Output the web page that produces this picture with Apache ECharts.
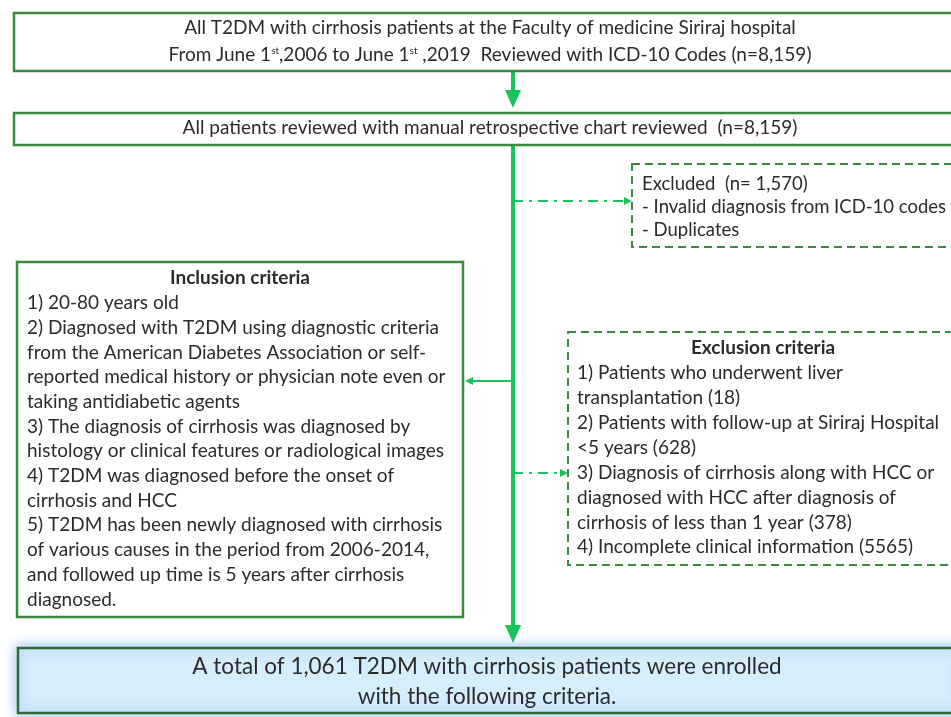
<!DOCTYPE html>
<html>
<head>
<meta charset="utf-8">
<script src="https://cdn.jsdelivr.net/npm/echarts@6/dist/echarts.min.js"></script>
<style>
  html, body { margin: 0; padding: 0; background: #fff; }
  #chart { width: 951px; height: 717px; }
</style>
</head>
<body>
<div id="chart"></div>
<script>
// flow steps (text per box, one entry per line)
var screenedLines = [
  'All T2DM with cirrhosis patients at the Faculty of medicine Siriraj hospital',
  'From June 1{s|st},2006 to June 1{s|st} ,2019  Reviewed with ICD-10 Codes (n=8,159)'
];
var reviewedLines = ['All patients reviewed with manual retrospective chart reviewed  (n=8,159)'];
var excludedLines = ['Excluded  (n= 1,570)', '- Invalid diagnosis from ICD-10 codes', '- Duplicates'];
var inclusionTitle = 'Inclusion criteria';
var inclusionLines = [
  '1) 20-80 years old',
  '2) Diagnosed with T2DM using diagnostic criteria',
  'from the American Diabetes Association or self-',
  'reported medical history or physician note even or',
  'taking antidiabetic agents',
  '3) The diagnosis of cirrhosis was diagnosed by',
  'histology or clinical features or radiological images',
  '4) T2DM was diagnosed before the onset of',
  'cirrhosis and HCC',
  '5) T2DM has been newly diagnosed with cirrhosis',
  'of various causes in the period from 2006-2014,',
  'and followed up time is 5 years after cirrhosis',
  'diagnosed.'
];
var exclusionTitle = 'Exclusion criteria';
var exclusionLines = [
  '1) Patients who underwent liver',
  'transplantation (18)',
  '2) Patients with follow-up at Siriraj Hospital',
  '<5 years (628)',
  '3) Diagnosis of cirrhosis along with HCC or',
  'diagnosed with HCC after diagnosis of',
  'cirrhosis of less than 1 year (378)',
  '4) Incomplete clinical information (5565)'
];
var enrolledLines = [
  'A total of 1,061 T2DM with cirrhosis patients were enrolled',
  'with the following criteria.'
];

var FONT = 'Lato, "Open Sans", sans-serif';
var TEXT = '#2b2b2b';
var BORDER = '#3a8a3e';
var ARROW = '#17c45a';

function box(x, y, w, h, dashed, extra) {
  var s = { fill: '#fff', stroke: BORDER, lineWidth: dashed ? 2 : 2.5 };
  if (dashed) s.lineDash = [8, 5];
  return Object.assign({ type: 'rect', shape: { x: x, y: y, width: w, height: h }, style: s }, extra || {});
}

function lines(arr, x, y0, step, size, align, weight) {
  return arr.map(function (t, i) {
    return {
      type: 'text',
      z: 10,
      style: {
        text: t, x: x, y: y0 + i * step,
        fontSize: size, fontFamily: FONT, fontWeight: weight || 'normal',
        fill: TEXT, align: align, verticalAlign: 'middle',
        rich: { s: { fontSize: 10, fontFamily: FONT, fill: TEXT, verticalAlign: 'top', padding: [0, 0, 7, 0] } }
      }
    };
  });
}

function vArrow(x, y1, y2, w) {
  return [
    { type: 'line', shape: { x1: x, y1: y1, x2: x, y2: y2 - 14 }, style: { stroke: ARROW, lineWidth: w } },
    { type: 'polygon', shape: { points: [[x - 8, y2 - 18], [x + 8, y2 - 18], [x, y2]] }, style: { fill: ARROW } }
  ];
}

function hArrow(x1, x2, y, dash) {
  var dir = x2 > x1 ? 1 : -1;
  var s = { stroke: ARROW, lineWidth: 2 };
  if (dash) s.lineDash = [10, 6, 3, 6];
  return [
    { type: 'line', shape: { x1: x1, y1: y, x2: x2 - dir * 4, y2: y }, style: s },
    { type: 'polygon', shape: { points: [[x2 - dir * 8, y - 4], [x2 - dir * 8, y + 4], [x2, y]] }, style: { fill: ARROW } }
  ];
}

var els = [];
// connectors
els = els.concat(vArrow(513, 72, 108, 4));
els.push({ type: 'line', shape: { x1: 513, y1: 145, x2: 513, y2: 630 }, style: { stroke: ARROW, lineWidth: 4 } });
els = els.concat(vArrow(513, 620, 643, 4));
els = els.concat(hArrow(513, 632, 201, true));
els = els.concat(hArrow(513, 465, 381, false));
els = els.concat(hArrow(513, 568, 473, true));

// boxes
els.push(box(14, 13, 952, 58));
els.push(box(14, 113, 952, 32));
els.push(box(632, 164, 330, 83, true));
els.push(box(17, 262, 446, 355));
els.push(box(568, 332, 392, 233, true));
els.push(box(18, 648, 944, 65, false, {
  style: { fill: '#d6edfa', stroke: '#2d6b34', lineWidth: 2.5, shadowBlur: 12, shadowColor: 'rgba(120,170,240,0.8)' }
}));

// texts
els = els.concat(lines(screenedLines, 490, 28, 27, 19, 'center'));
els = els.concat(lines(reviewedLines, 490, 128, 0, 19, 'center'));
els = els.concat(lines(excludedLines, 642, 184, 23, 18.5, 'left'));
els = els.concat(lines([inclusionTitle], 240, 278, 0, 19, 'center', 'bold'));
els = els.concat(lines(inclusionLines, 27, 303, 24.7, 19, 'left'));
els = els.concat(lines([exclusionTitle], 763, 348, 0, 19, 'center', 'bold'));
els = els.concat(lines(exclusionLines, 577, 373, 24.9, 19, 'left'));
els = els.concat(lines(enrolledLines, 487, 667, 30, 22.5, 'center'));

var chart = echarts.init(document.getElementById('chart'), null, { renderer: 'canvas' });
chart.setOption({
  backgroundColor: '#fff',
  animation: false,
  graphic: { elements: els }
});
</script>
</body>
</html>
